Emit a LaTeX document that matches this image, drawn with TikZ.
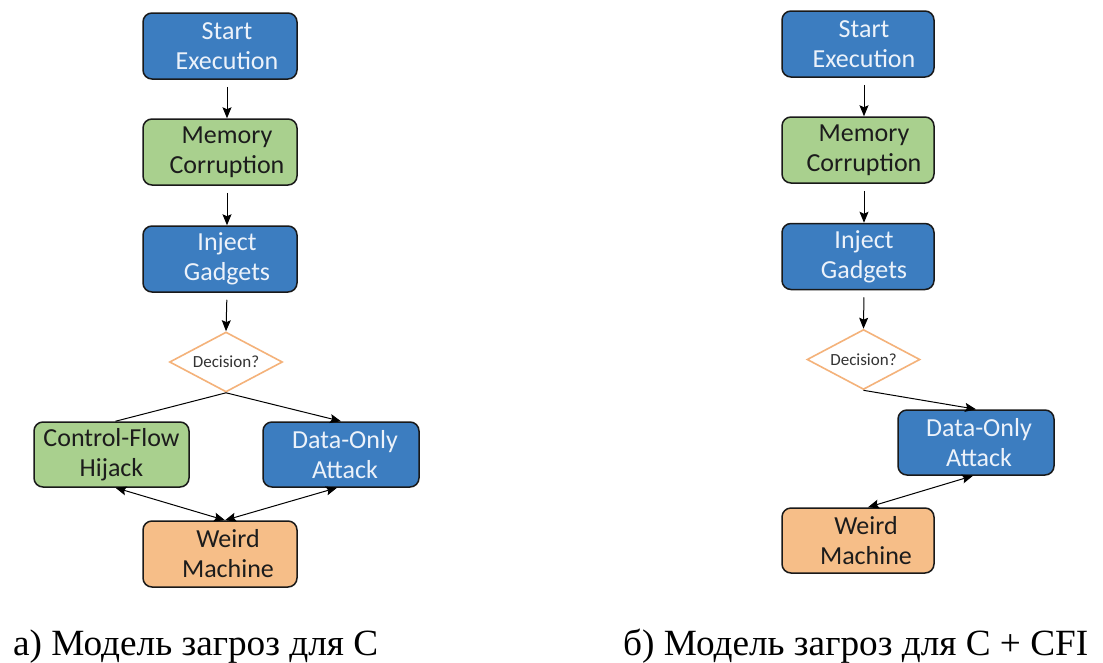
\documentclass[tikz,border=0pt]{standalone}
\usepackage{fontspec}
\usepackage{graphicx}
\usetikzlibrary{arrows.meta,shapes.geometric}
\newfontfamily\boxfont{Carlito}
\newfontfamily\capfont{Liberation Serif}
\definecolor{procblue}{RGB}{60,125,192}
\definecolor{procgreen}{RGB}{169,208,142}
\definecolor{procorange}{RGB}{246,190,136}
\definecolor{decorange}{RGB}{244,178,122}
\definecolor{lighttext}{RGB}{236,242,250}
\definecolor{darktext}{RGB}{28,28,28}
\definecolor{boxedge}{RGB}{25,25,25}
\tikzset{
  box/.style={rectangle, rounded corners=9pt, draw=boxedge, line width=1.5pt,
    minimum width=154pt, minimum height=66pt, inner sep=0pt},
  boxtext/.style={font=\boxfont\fontsize{26}{30}\selectfont, align=center},
  bluebox/.style={box, fill=procblue},
  greenbox/.style={box, fill=procgreen},
  orangebox/.style={box, fill=procorange},
  lighttxt/.style={boxtext, text=lighttext},
  darktxt/.style={boxtext, text=darktext},
  decision/.style={diamond, aspect=1.9, draw=decorange, line width=1.6pt, fill=white,
    minimum width=113pt, minimum height=60pt, inner sep=0pt,
    font=\boxfont\fontsize{17}{20}\selectfont, text=darktext!90},
  flow/.style={draw=black, line width=1pt, -{Stealth[length=11pt,width=9pt,inset=2pt]}},
  plainline/.style={draw=black, line width=1pt},
  twoway/.style={draw=black, line width=1pt,
    {Stealth[length=11pt,width=9pt,inset=2pt]}-{Stealth[length=11pt,width=9pt,inset=2pt]}},
  caption/.style={font=\capfont\fontsize{37}{40}\selectfont, anchor=base west, inner sep=0pt}
}
\begin{document}
\begin{tikzpicture}[x=1pt,y=-1pt]
  \useasboundingbox[fill=white] (0,0) rectangle (1103,662);

  % ---- left flow: threat model for C ----
  \node[bluebox, label={[lighttxt,xshift=7pt]center:{Start\\Execution}}] (s1) at (220,46) {};
  \node[greenbox, label={[darktxt,xshift=7pt]center:{Memory\\Corruption}}] (m1) at (220,152) {};
  \node[bluebox, label={[lighttxt,xshift=7pt]center:{Inject\\Gadgets}}] (i1) at (220,259) {};
  \node[decision] (d1) at (226,362) {Decision?};
  \node[greenbox, minimum width=155pt, minimum height=65pt,
        label={[darktxt]center:{Control-Flow\\Hijack}}] (c1) at (111.5,454.5) {};
  \node[bluebox, minimum width=156pt, minimum height=65pt,
        label={[lighttxt,xshift=4pt]center:{Data-Only\\Attack}}] (a1) at (341,454.5) {};
  \node[orangebox, label={[darktxt,xshift=8pt]center:{Weird\\Machine}}] (w1) at (220,554) {};

  \draw[flow, shorten <=7pt] ([xshift=7pt]s1.south) -- ([xshift=7pt]m1.north);
  \draw[flow, shorten <=7pt] ([xshift=7pt]m1.south) -- ([xshift=7pt]i1.north);
  \draw[flow, shorten <=7pt] ([xshift=7pt]i1.south) -- (d1.north);
  \draw[plainline] (d1.south) -- ([xshift=4pt]c1.north);
  \draw[flow] (d1.south) -- (a1.north);
  \draw[twoway] ([xshift=4pt]c1.south) -- ([xshift=5pt]w1.north);
  \draw[twoway] ([xshift=-4pt]a1.south) -- ([xshift=5pt]w1.north);

  % ---- right flow: threat model for C + CFI ----
  \node[bluebox, minimum width=152pt, label={[lighttxt,xshift=6pt]center:{Start\\Execution}}] (s2) at (858,44) {};
  \node[greenbox, minimum width=152pt, label={[darktxt,xshift=6pt]center:{Memory\\Corruption}}] (m2) at (858,150) {};
  \node[bluebox, minimum width=152pt, label={[lighttxt,xshift=6pt]center:{Inject\\Gadgets}}] (i2) at (858,256.5) {};
  \node[decision] (d2) at (863.5,359.5) {Decision?};
  \node[bluebox, minimum width=156pt, minimum height=65pt,
        label={[lighttxt,xshift=3pt]center:{Data-Only\\Attack}}] (a2) at (976,442.5) {};
  \node[orangebox, minimum width=152pt, minimum height=65pt,
        label={[darktxt,xshift=8pt]center:{Weird\\Machine}}] (w2) at (858,540.5) {};

  \draw[flow, shorten <=7pt] ([xshift=6pt]s2.south) -- ([xshift=6pt]m2.north);
  \draw[flow, shorten <=7pt] ([xshift=6pt]m2.south) -- ([xshift=6pt]i2.north);
  \draw[flow, shorten <=7pt] ([xshift=6pt]i2.south) -- (d2.north);
  \draw[flow] (d2.south) -- (a2.north);
  \draw[twoway] ([xshift=-3pt]a2.south) -- ([xshift=10pt]w2.north);

  % ---- captions ----
  \node[caption] (capa) at (13,655) {\resizebox{365pt}{\height}{а) Модель загроз для C}};
  \node[caption] (capb) at (623,655) {\resizebox{465pt}{\height}{б) Модель загроз для C + CFI}};
\end{tikzpicture}
\end{document}
